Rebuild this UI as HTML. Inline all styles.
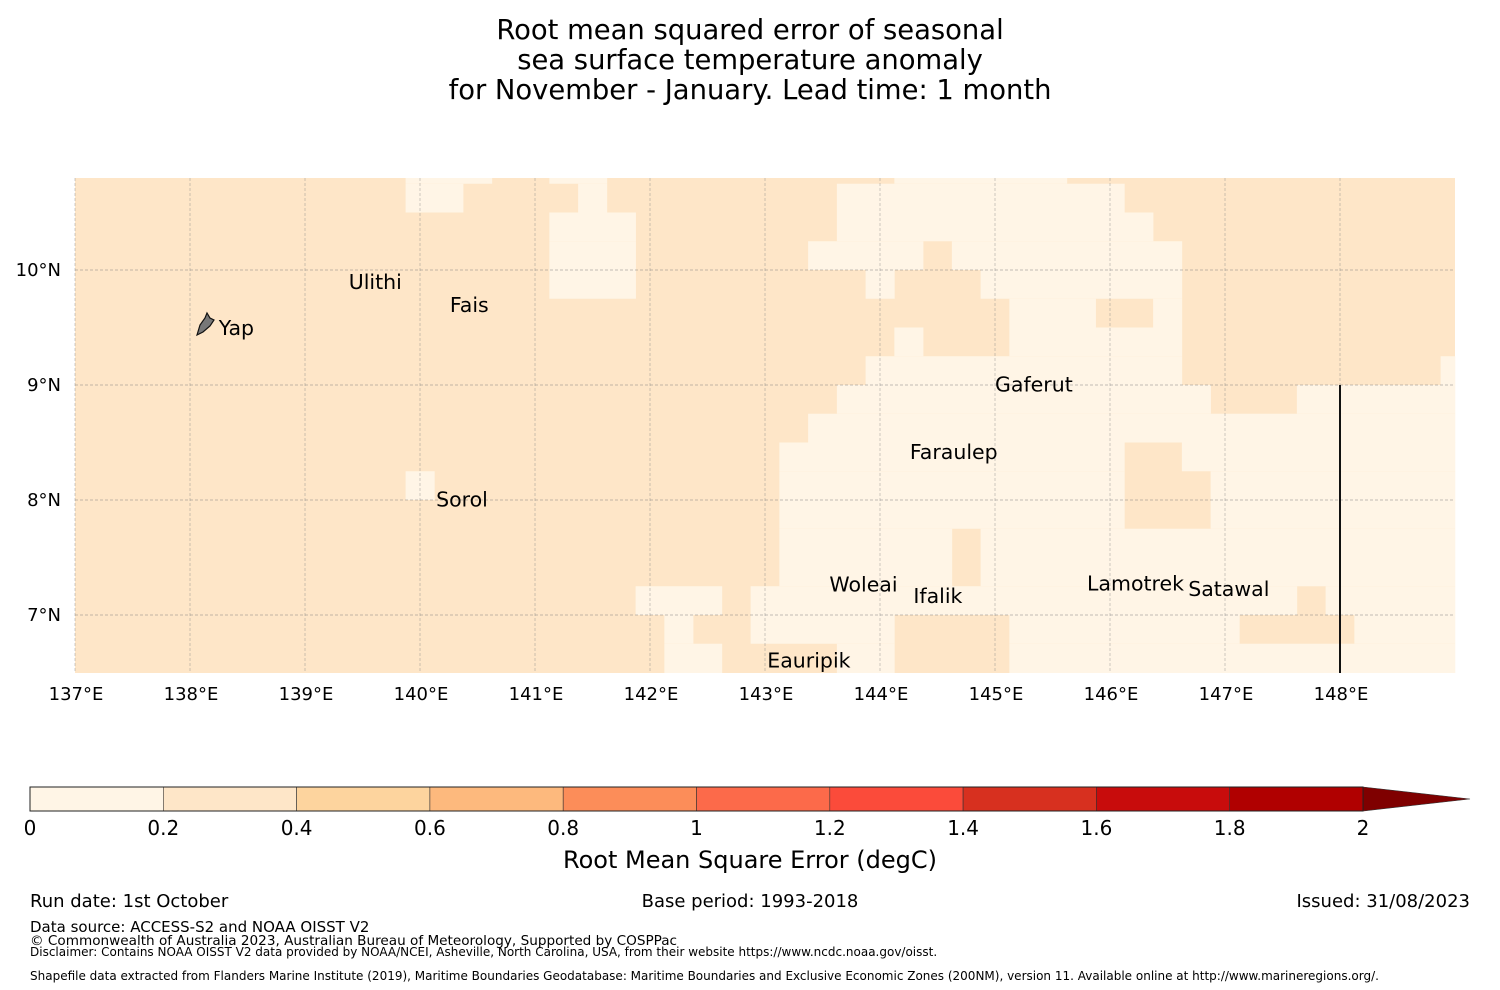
<!DOCTYPE html>
<html><head><meta charset="utf-8"><style>
body{margin:0;background:#fff;}
svg{display:block;font-family:"DejaVu Sans","Liberation Sans",sans-serif;}
</style></head><body>
<svg id="fig" width="1500" height="990" viewBox="0 0 1500 990" xmlns="http://www.w3.org/2000/svg">
<g font-size="27.4" text-anchor="middle" fill="#000">
<text x="750" y="39">Root mean squared error of seasonal</text>
<text x="750" y="69">sea surface temperature anomaly</text>
<text x="750" y="99">for November - January. Lead time: 1 month</text>
</g>
<g id="map"></g>
<g id="grid"></g>
<line x1="1340" y1="385" x2="1340" y2="673" stroke="#111" stroke-width="2"/>
<path d="M197,335 L200,325 L205,318 L207,313 L210,318 L214,320 L210,326 L203,332 Z" fill="#777" stroke="#111" stroke-width="1.2"/>
<g id="labels" font-size="20.5" fill="#000"></g>
<g id="ticks" font-size="18" fill="#000"></g>
<g id="cbar"></g>
<text x="750" y="868" font-size="24" text-anchor="middle">Root Mean Square Error (degC)</text>
<g fill="#000">
<text x="30" y="907" font-size="18">Run date: 1st October</text>
<text x="750" y="907" font-size="18" text-anchor="middle">Base period: 1993-2018</text>
<text x="1470" y="907" font-size="18" text-anchor="end">Issued: 31/08/2023</text>
<text x="30" y="932" font-size="15">Data source: ACCESS-S2 and NOAA OISST V2</text>
<text x="30" y="945" font-size="13.6">© Commonwealth of Australia 2023, Australian Bureau of Meteorology, Supported by COSPPac</text>
<text x="30" y="956" font-size="12">Disclaimer: Contains NOAA OISST V2 data provided by NOAA/NCEI, Asheville, North Carolina, USA, from their website https://www.ncdc.noaa.gov/oisst.</text>
<text x="30" y="980" font-size="12">Shapefile data extracted from Flanders Marine Institute (2019), Maritime Boundaries Geodatabase: Maritime Boundaries and Exclusive Economic Zones (200NM), version 11. Available online at http://www.marineregions.org/.</text>
</g>
</svg>
<script>
// light (0-0.2 degC) cell spans per row [startCol,endCol]; other cells are 0.2-0.4 degC
const lightSpans = [
 [[12,14],[17,18],[29,34]],
 [[12,13],[18,18],[27,36]],
 [[17,19],[27,37]],
 [[17,19],[26,29],[31,38]],
 [[17,19],[28,28],[32,38]],
 [[33,35],[38,38]],
 [[29,29],[33,38]],
 [[28,38],[48,48]],
 [[27,39],[43,48]],
 [[26,48]],
 [[25,36],[39,48]],
 [[12,12],[25,36],[40,48]],
 [[25,36],[40,48]],
 [[25,30],[32,48]],
 [[25,30],[32,48]],
 [[20,22],[24,42],[44,48]],
 [[21,21],[24,28],[33,40],[45,48]],
 [[21,22],[27,28],[33,48]]
];
const lonTicks=[137,138,139,140,141,142,143,144,145,146,147,148];
const latTicks=[10,9,8,7];
const cbarBounds=[0,0.2,0.4,0.6,0.8,1,1.2,1.4,1.6,1.8,2];
const cbarColors=["#fff5e6","#fee6c8","#fdd49e","#fdb97d","#fc8d59","#fc6a4a","#fb4b3a","#d7301f","#c80c0c","#b00000"];
const cbarExtend="#7f0000";
const islandNames=["Ulithi","Fais","Yap","Gaferut","Faraulep","Sorol","Woleai","Ifalik","Lamotrek","Satawal","Eauripik"];
const islandLon=[139.38,140.26,138.25,145.0,144.26,140.14,143.56,144.29,145.8,146.68,143.02];
const islandLat=[9.87,9.67,9.47,8.98,8.39,7.98,7.24,7.14,7.25,7.2,6.58];

const NS="http://www.w3.org/2000/svg";
const X=lon=>75+(lon-137)*115, Y=lat=>270-(lat-10)*115;
function mk(t,a,p){const e=document.createElementNS(NS,t);for(const k in a)e.setAttribute(k,a[k]);p.appendChild(e);return e;}
const map=document.getElementById('map');
function colEdges(c){const a=c==0?137:137.125+0.25*(c-1);const b=Math.min(149,137.125+0.25*c);return [a,b];}
function rowEdges(r){const t=r==0?10.8:10.75-0.25*(r-1);const b=10.75-0.25*r;return [t,b];}
for(let r=0;r<lightSpans.length;r++){
 const [lt,lb]=rowEdges(r);
 let bg=mk('rect',{x:X(137),y:Y(lt),width:X(149)-X(137),height:Y(lb)-Y(lt)+0.5,fill:cbarColors[1]},map);
 
 
 for(const [a,b] of lightSpans[r]){
  const x1=X(colEdges(a)[0]),x2=X(colEdges(b)[1]);
  const c=mk('rect',{x:x1,y:Y(lt),width:x2-x1+0.3,height:Y(lb)-Y(lt)+0.5,fill:cbarColors[0]},map);
  
  
 }
}
const grid=document.getElementById('grid'),ticks=document.getElementById('ticks');
lonTicks.forEach(l=>{
 const g=mk('line',{x1:X(l),x2:X(l),y1:178,y2:673,stroke:'#888','stroke-width':0.7,'stroke-dasharray':'3,2',opacity:0.6},grid);
 
 
 const t=mk('text',{x:X(l)+1,y:700,'text-anchor':'middle'},ticks);t.textContent=l+'°E';
 
 
});
latTicks.forEach(l=>{
 const g=mk('line',{x1:75,x2:1455,y1:Y(l),y2:Y(l),stroke:'#777','stroke-width':0.7,'stroke-dasharray':'3,2',opacity:0.6},grid);
 
 
 const t=mk('text',{x:61,y:Y(l)+6,'text-anchor':'end'},ticks);t.textContent=l+'°N';
 
 
});
const labels=document.getElementById('labels');
islandNames.forEach((n,i)=>{
 const t=mk('text',{x:X(islandLon[i]),y:Y(islandLat[i])+4},labels);t.textContent=n;
 
 
});
const cb=document.getElementById('cbar');
const CX=v=>30+v*(1333/2);
for(let i=0;i<cbarColors.length;i++){
 const r=mk('rect',{x:CX(cbarBounds[i]),y:787,width:CX(cbarBounds[i+1])-CX(cbarBounds[i]),height:24,fill:cbarColors[i],stroke:'#333','stroke-width':0.6},cb);
 
 
}
const tri=mk('polygon',{points:`${CX(2)},787 1470,799 ${CX(2)},811`,fill:cbarExtend,stroke:'#333','stroke-width':0.6},cb);


const ol=mk('rect',{x:30,y:787,width:1333,height:24,fill:'none',stroke:'#222','stroke-width':1},cb);


cbarBounds.forEach(v=>{
 const t=mk('text',{x:CX(v),y:835,'text-anchor':'middle','font-size':20},cb);t.textContent=String(v);
 
 
});
</script>
</body></html>
